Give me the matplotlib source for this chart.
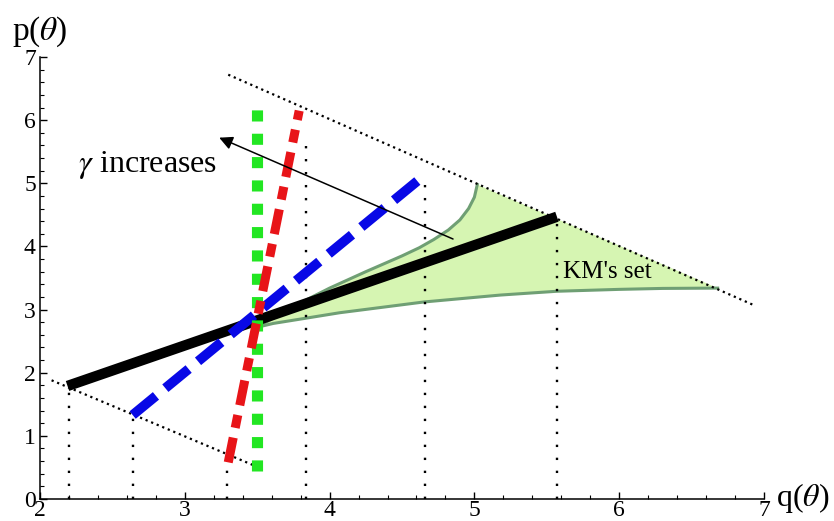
import numpy as np
import matplotlib.pyplot as plt
from matplotlib.ticker import MultipleLocator

plt.rcParams['font.family'] = ['Liberation Serif', 'DejaVu Serif']
plt.rcParams['mathtext.fontset'] = 'stix'

# thick lines through the common point (q, p end points)
black_q = [2.19, 5.57]
black_p = [1.79, 4.47]
blue_q = [2.64, 4.64]
blue_p = [1.33, 5.10]
red_q = [3.30, 3.79]
red_p = [0.58, 6.15]
green_q = [3.50, 3.50]
green_p = [0.45, 6.35]

# dotted boundary lines
upper_q = [3.30, 6.92]
upper_p = [6.72, 3.08]
lower_q = [2.08, 3.51]
lower_p = [1.88, 0.50]

# vertical dotted drops
drop_q = [2.20, 2.64, 3.29, 3.84, 4.66, 5.57]
drop_p = [1.80, 1.30, 0.55, 5.70, 5.10, 4.45]

# KM's set boundary
km_upper_q = [3.50, 3.75, 4.00, 4.25, 4.50, 4.62, 4.72, 4.82, 4.90, 4.96, 5.00, 5.02]
km_upper_p = [2.72, 3.05, 3.34, 3.60, 3.85, 3.98, 4.11, 4.26, 4.42, 4.60, 4.78, 4.98]
km_lower_q = [6.68, 6.30, 6.00, 5.57, 5.18, 4.65, 4.07, 3.80, 3.61, 3.50]
km_lower_p = [3.34, 3.335, 3.32, 3.29, 3.23, 3.12, 2.95, 2.85, 2.78, 2.72]

fig = plt.figure(figsize=(8.34, 5.21), dpi=100)
ax = fig.add_axes([40 / 834, 22 / 521, 724 / 834, 442 / 521])

# filled set
poly_q = km_upper_q + km_lower_q
poly_p = km_upper_p + km_lower_p
ax.fill(poly_q, poly_p, color='#d6f5b2', lw=0, zorder=1)
ax.plot(km_upper_q, km_upper_p, color='#6f9f74', lw=2.2, zorder=2)
ax.plot(km_lower_q, km_lower_p, color='#6f9f74', lw=2.2, zorder=2)

ax.plot(upper_q, upper_p, color='black', lw=1.6, ls=(0, (1, 1.7)), zorder=3)
ax.plot(lower_q, lower_p, color='black', lw=1.6, ls=(0, (1, 1.7)), zorder=3)
for q, p in zip(drop_q, drop_p):
    ax.plot([q, q], [0, p], color='black', lw=1.7, ls=(0, (1, 4.5)), zorder=3)

ax.plot(black_q, black_p, color='black', lw=7.5, solid_capstyle='butt', zorder=4)
ax.plot(blue_q, blue_p, color='#0808e6', lw=7, ls=(0, (3.1, 1.25)), zorder=5)
ax.plot(green_q, green_p, color='#22e622', lw=8, ls=(0, (1.0, 1.1)), zorder=6)
ax.plot(red_q, red_p, color='#e81418', lw=6.5, ls=(0, (2.8, 1.1, 1.45, 1.1)), zorder=7)

ax.annotate('', xy=(3.22, 5.74), xytext=(4.87, 4.10),
            arrowprops=dict(arrowstyle='-|>', mutation_scale=20, lw=1.1, color='black'),
            zorder=8)
ax.text(2.26, 5.18, r'$\gamma$ increases', fontsize=23, ha='left', va='baseline')
ax.text(5.61, 3.50, "KM's set", fontsize=18, ha='left', va='baseline', zorder=9)

ax.set_xlim(2, 7)
ax.set_ylim(0, 7)
ax.spines['top'].set_visible(False)
ax.spines['right'].set_visible(False)
ax.spines['left'].set_linewidth(1.1)
ax.spines['bottom'].set_linewidth(1.1)
ax.xaxis.set_major_locator(MultipleLocator(1))
ax.xaxis.set_minor_locator(MultipleLocator(0.2))
ax.yaxis.set_major_locator(MultipleLocator(1))
ax.yaxis.set_minor_locator(MultipleLocator(0.2))
ax.tick_params(which='major', direction='in', length=5, width=1, labelsize=17, pad=3)
ax.tick_params(axis='x', which='major', pad=0.5)
ax.tick_params(which='minor', direction='in', length=2.8, width=0.8)

ax.text(2.0, 7.4, r'p($\theta$)', fontsize=24, ha='center', va='center', clip_on=False)
ax.text(7.08, 0.02, r'q($\theta$)', fontsize=23, ha='left', va='center', clip_on=False)

fig.savefig('out.png', dpi=100)
